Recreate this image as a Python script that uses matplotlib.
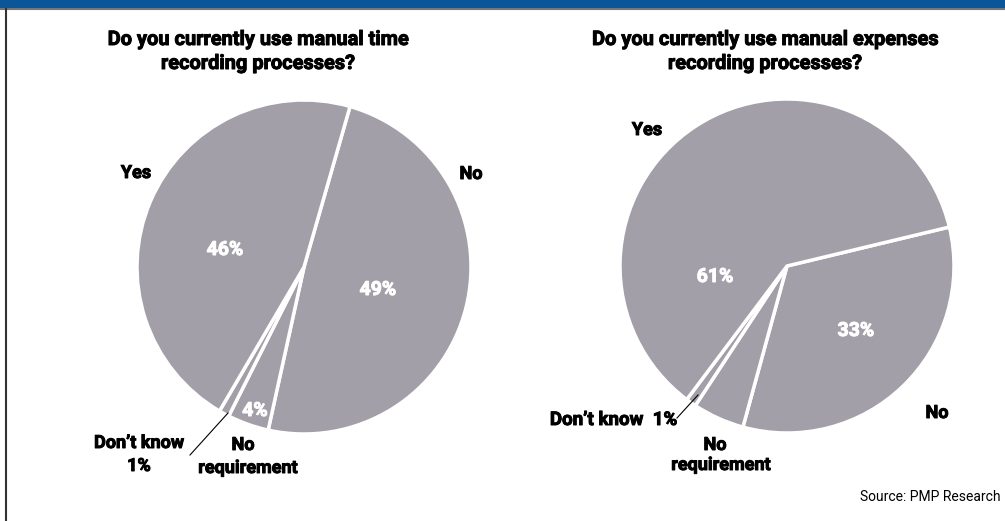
import matplotlib
matplotlib.use("Agg")
import matplotlib.pyplot as plt
import matplotlib.patheffects as pe
from matplotlib.patches import Rectangle
from matplotlib.lines import Line2D

plt.rcParams['font.family'] = ['Roboto', 'DejaVu Sans']

# ---- data ----
time_labels = ["No", "No requirement", "Don\u2019t know", "Yes"]
time_values = [49, 4, 1, 46]
time_title = ["Do you currently use manual time", "recording processes?"]

exp_labels = ["No", "No requirement", "Don\u2019t know", "Yes"]
exp_values = [33, 5, 1, 61]
exp_title = ["Do you currently use manual expenses", "recording processes?"]

source = "Source: PMP Research"

W, H = 1005, 521
GREY = "#a29fa8"
BLUE = "#0b5599"

fig = plt.figure(figsize=(W / 100, H / 100), dpi=100)


def fx(px):
    return px / W


def fy(py):
    return 1 - py / H


def txt(px, py, s, **kw):
    kw.setdefault("fontsize", 13)
    kw.setdefault("fontweight", "bold")
    kw.setdefault("ha", "center")
    kw.setdefault("va", "center")
    kw.setdefault("color", "black")
    if kw["fontweight"] == "bold":
        # thicken the strokes a bit, the original uses a black condensed face
        kw["path_effects"] = [pe.withStroke(linewidth=0.7, foreground=kw["color"])]
    fig.text(fx(px), fy(py), s, **kw)


def pie_axes(cx, cy, r, values, start):
    pad = 1.06
    ax = fig.add_axes([fx(cx - r * pad), fy(cy + r * pad), 2 * r * pad / W, 2 * r * pad / H])
    ax.pie(values, colors=[GREY] * len(values), startangle=start, counterclock=False,
           radius=1, wedgeprops=dict(edgecolor="white", linewidth=2.5))
    ax.set_xlim(-pad, pad)
    ax.set_ylim(-pad, pad)
    ax.set_aspect("equal")
    ax.axis("off")
    return ax


# header bar and frame
fig.patches.append(Rectangle((0, fy(8)), 1, 8 / H, transform=fig.transFigure, color=BLUE, zorder=0))
fig.lines.append(Line2D([0, 1], [fy(9), fy(9)], transform=fig.transFigure, color="#777777", lw=1.5))
fig.lines.append(Line2D([fx(5.5), fx(5.5)], [fy(9), 0], transform=fig.transFigure, color="#333333", lw=1.5))

# left pie: time recording
pie_axes(304, 267, 167, time_values, 74)
txt(258, 45, time_title[0], fontsize=14.4, va="baseline")
txt(258, 69, time_title[1], fontsize=14.4, va="baseline")
txt(136, 173, time_labels[3])
txt(471, 174, time_labels[0])
txt(225, 250, f"{time_values[3]}%", color="white", fontsize=14)
txt(378, 290, f"{time_values[0]}%", color="white", fontsize=14)
txt(255, 411, f"{time_values[1]}%", color="white", fontsize=14)
txt(139, 443, time_labels[2])
txt(139, 466, f"{time_values[2]}%")
txt(243, 445, "No")
txt(248, 468, "requirement")
fig.lines.append(Line2D([fx(190), fx(228)], [fy(455), fy(413)], transform=fig.transFigure, color="black", lw=0.8))

# right pie: expenses recording
pie_axes(787, 266, 167, exp_values, 13.5)
txt(765, 45, exp_title[0], fontsize=14.4, va="baseline")
txt(765, 69, exp_title[1], fontsize=14.4, va="baseline")
txt(647, 130, exp_labels[3])
txt(937, 413, exp_labels[0])
txt(715, 277, f"{exp_values[3]}%", color="white", fontsize=14)
txt(856, 331, f"{exp_values[0]}%", color="white", fontsize=14)
txt(677, 420, f"{exp_labels[2]}  {exp_values[2]}%", ha="right", fontsize=13.5)
txt(715, 445, "No")
txt(721, 465, "requirement")
fig.lines.append(Line2D([fx(677), fx(698)], [fy(418), fy(395)], transform=fig.transFigure, color="black", lw=0.8))

txt(1000, 497, source, ha="right", fontweight="normal", fontsize=10)

fig.savefig("out.png", dpi=100, facecolor="white")
